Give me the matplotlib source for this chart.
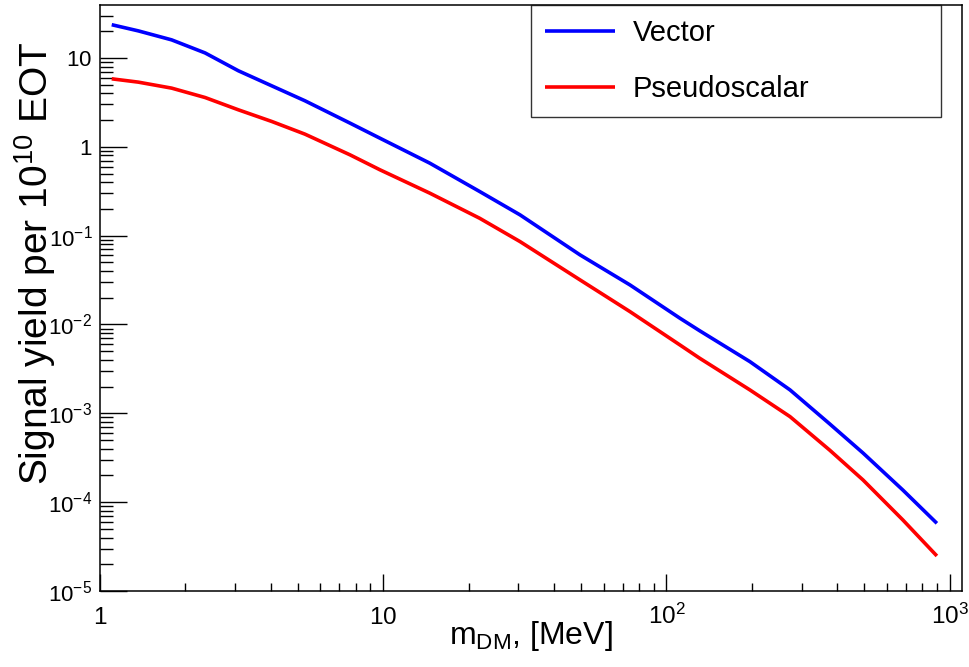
import numpy as np
import matplotlib
matplotlib.use("Agg")
import matplotlib.pyplot as plt
from matplotlib.ticker import FixedLocator, FixedFormatter, NullFormatter

# ---------------------------------------------------------------
#  signal yield vs dark matter mass (ROOT-like look)
# ---------------------------------------------------------------

plt.rcParams['font.family'] = ['Liberation Sans', 'DejaVu Sans']
plt.rcParams['mathtext.fontset'] = 'custom'
plt.rcParams['mathtext.rm'] = 'Liberation Sans'
plt.rcParams['mathtext.it'] = 'Liberation Sans:italic'
plt.rcParams['mathtext.bf'] = 'Liberation Sans:bold'

# datos (MeV, yield por 1e10 EOT)
mass = [1.10, 1.365, 1.79, 2.35, 3.08, 4.04, 5.29, 7.63, 9.74, 14.6, 21.9, 30.4,
        49.5, 74.3, 111.5, 131, 197, 273, 377, 494, 683, 901]
vector = [23.7, 20.2, 16.0, 11.4, 7.18, 4.86, 3.30, 1.85, 1.25, 0.655, 0.314, 0.1715,
          0.0608, 0.0279, 0.01178, 0.0085, 0.00382, 0.001835, 0.00076, 0.000358,
          0.000137, 5.78e-5]
pseudoscalar = [5.83, 5.35, 4.58, 3.59, 2.61, 1.93, 1.39, 0.813, 0.551, 0.301, 0.157,
                0.0858, 0.0318, 0.01397, 0.00589, 0.00417, 0.001835, 0.000918,
                0.000385, 0.000178, 6.31e-5, 2.48e-5]

series_names = ["Vector", "Pseudoscalar"]
series_colors = ["#0000ff", "#ff0000"]

xticks = [1, 10, 100, 1000]
xtick_labels = ["$1$", "$10$", "$10^{2}$", "$10^{3}$"]
yticks = [1e-5, 1e-4, 1e-3, 1e-2, 1e-1, 1, 10]
ytick_labels = ["$10^{-5}$", "$10^{-4}$", "$10^{-3}$", "$10^{-2}$", "$10^{-1}$", "$1$", "$10$"]

fig = plt.figure(figsize=(9.69, 6.67), dpi=100)
ax = fig.add_axes([100 / 969, 76 / 667, 862 / 969, 586 / 667])

for vals, name, col in zip([vector, pseudoscalar], series_names, series_colors):
    ax.plot(mass, vals, color=col, lw=2.6, label=name,
            solid_capstyle='butt', solid_joinstyle='round')

ax.set_xscale('log'); ax.set_yscale('log')
ax.set_xlim(1, 1105); ax.set_ylim(1e-5, 39.5)

# ticks mayores / menores
ax.xaxis.set_major_locator(FixedLocator(xticks))
ax.xaxis.set_major_formatter(FixedFormatter(xtick_labels))
ax.yaxis.set_major_locator(FixedLocator(yticks))
ax.yaxis.set_major_formatter(FixedFormatter(ytick_labels))
minors_x = [m * 10 ** d for d in range(0, 4) for m in range(2, 10)]
minors_y = [m * 10.0 ** d for d in range(-5, 2) for m in range(2, 10)]
ax.xaxis.set_minor_locator(FixedLocator(minors_x))
ax.yaxis.set_minor_locator(FixedLocator(minors_y))
ax.xaxis.set_minor_formatter(NullFormatter())
ax.yaxis.set_minor_formatter(NullFormatter())

ax.tick_params(which='both', direction='in', top=False, right=False, width=1.0, color='black')
ax.tick_params(axis='y', which='major', length=19.4, pad=5.5, labelsize=16)
ax.tick_params(axis='y', which='minor', length=9.4)
ax.tick_params(axis='x', which='major', length=12.3, pad=24.0, labelsize=17.5)
ax.tick_params(axis='x', which='minor', length=6.1)
for lbl in ax.get_xticklabels():
    lbl.set_verticalalignment('baseline')

for sp in ax.spines.values():
    sp.set_linewidth(1.1)
    sp.set_color('black')

# titulos de ejes
fig.text(531 / 969, 1 - 644 / 667, r"$\mathrm{m_{DM}}$, [MeV]", fontsize=23,
         ha='center', va='baseline')
fig.text(48 / 969, 1 - 263 / 667, r"Signal yield per $10^{10}$ EOT", fontsize=28,
         ha='center', va='baseline', rotation=90, rotation_mode='anchor')

leg = ax.legend(loc='upper left', bbox_to_anchor=(0.5, 0.8123, 0.4756, 0.1877),
                mode='expand', fontsize=21, handlelength=2.4, handletextpad=0.6,
                borderpad=0.48, labelspacing=0.95, borderaxespad=0.0,
                fancybox=False, frameon=True)
leg.get_frame().set_edgecolor('black')
leg.get_frame().set_linewidth(1.0)

fig.savefig("out.png", dpi=100, facecolor='white')
